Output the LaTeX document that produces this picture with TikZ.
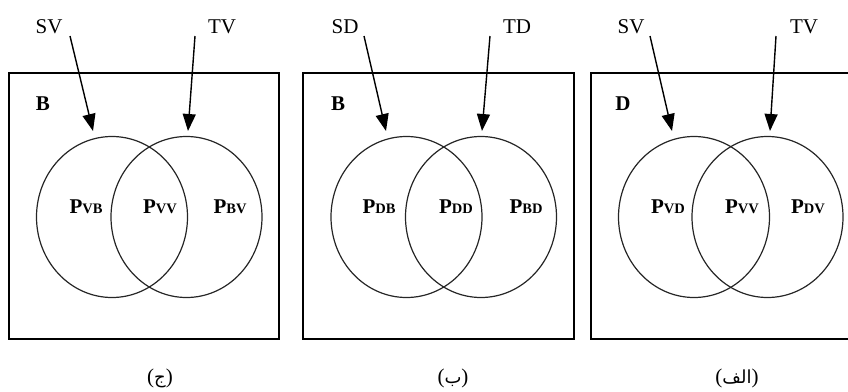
\documentclass[tikz,border=0pt]{standalone}
\usepackage{fontspec}
\setmainfont{Liberation Serif}
\newfontfamily\arabicfont[Script=Arabic]{DejaVu Sans}
\TeXXeTstate=1
\usetikzlibrary{arrows.meta,shapes.geometric}

\tikzset{
  frame/.style={draw=black, line width=1.4pt},
  venn/.style={ellipse, draw=black!85, line width=1.2pt, minimum width=151pt, minimum height=161pt, inner sep=0pt},
  src/.style={anchor=base, inner sep=0pt, font=\fontsize{21}{21}\selectfont},
  tag/.style={anchor=base, inner sep=0pt, font=\fontsize{21}{21}\selectfont\bfseries},
  region/.style={anchor=base, inner sep=0pt, font=\fontsize{21}{21}\selectfont\bfseries},
  caption/.style={anchor=base, inner sep=0pt, font=\fontsize{21}{21}\selectfont},
  flow/.style={line width=1.4pt, -{Triangle[length=17pt,width=13pt]}}
}
\newcommand{\pset}[2]{P{\fontsize{14.5}{14.5}\selectfont #1#2}}
\newcommand{\fa}[1]{({\arabicfont\fontsize{18}{18}\selectfont\beginR #1\endR})}

\begin{document}
\begin{tikzpicture}[x=1pt, y=-1pt]
\useasboundingbox (0,0) rectangle (848,391);

% ---- panel (ج) ----
\draw[frame] (9,73) rectangle (279,339);
\node[venn] (cL1) at (112,217) {};
\node[venn] (cR1) at (186.5,217) {};
\node[src] (sv1) at (49,33) {SV};
\node[src] (tv1) at (222,33) {TV};
\coordinate (tipL1) at (93,131);
\coordinate (tipR1) at (188,131);
\draw[flow] (70,36) -- (tipL1);
\draw[flow] (195,36) -- (tipR1);
\node[tag] (b1) at (43,110) {B};
\node[region] (r11) at (86,213) {\pset{V}{B}};
\node[region] (r12) at (160,213) {\pset{V}{V}};
\node[region] (r13) at (230,213) {\pset{B}{V}};
\node[caption] (cap1) at (160,383) {\fa{ج}};

% ---- panel (ب) ----
\draw[frame] (303,73) rectangle (574,339);
\node[venn] (cL2) at (406.5,217) {};
\node[venn] (cR2) at (481,217) {};
\node[src] (sd2) at (345,33) {SD};
\node[src] (td2) at (517,33) {TD};
\coordinate (tipL2) at (386,131);
\coordinate (tipR2) at (482,131);
\draw[flow] (364,36) -- (tipL2);
\draw[flow] (490,36) -- (tipR2);
\node[tag] (b2) at (338,110) {B};
\node[region] (r21) at (379,213) {\pset{D}{B}};
\node[region] (r22) at (456,213) {\pset{D}{D}};
\node[region] (r23) at (526,213) {\pset{B}{D}};
\node[caption] (cap2) at (453,383) {\fa{ب}};

% ---- panel (الف) ----
\draw[frame] (591,73) rectangle (852,339);
\node[venn] (cL3) at (694,217) {};
\node[venn] (cR3) at (767.5,217) {};
\node[src] (sv3) at (631,33) {SV};
\node[src] (tv3) at (804,33) {TV};
\coordinate (tipL3) at (672,131);
\coordinate (tipR3) at (770,131);
\draw[flow] (650,36) -- (tipL3);
\draw[flow] (776,36) -- (tipR3);
\node[tag] (d3) at (623,110) {D};
\node[region] (r31) at (668,213) {\pset{V}{D}};
\node[region] (r32) at (742,213) {\pset{V}{V}};
\node[region] (r33) at (808,213) {\pset{D}{V}};
\node[caption] (cap3) at (737,383) {\fa{الف}};
\end{tikzpicture}
\end{document}
